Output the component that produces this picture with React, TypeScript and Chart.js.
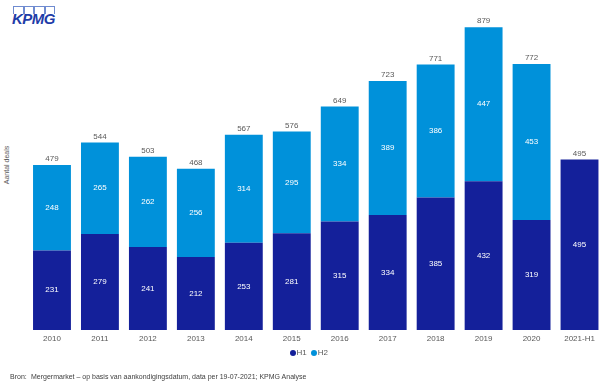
import React, { useEffect, useRef } from "react";
import { Chart, registerables } from "chart.js";

Chart.register(...registerables);

const categories = ["2010", "2011", "2012", "2013", "2014", "2015", "2016", "2017", "2018", "2019", "2020", "2021-H1"];
const h1Values = [231, 279, 241, 212, 253, 281, 315, 334, 385, 432, 319, 495];
const h2Values: (number | null)[] = [248, 265, 262, 256, 314, 295, 334, 389, 386, 447, 453, null];
const totals = h1Values.map((v, i) => v + (h2Values[i] ?? 0));

const H1_COLOR = "#14209a";
const H2_COLOR = "#0091da";
const GRAY = "#595959";
const FONT = "'Liberation Sans', Arial, sans-serif";

const labelPlugin = {
  id: "valueLabels",
  afterDatasetsDraw(chart: any) {
    const ctx = chart.ctx;
    ctx.save();
    ctx.font = `8px ${FONT}`;
    ctx.textAlign = "center";
    chart.data.datasets.forEach((ds: any, di: number) => {
      const meta = chart.getDatasetMeta(di);
      meta.data.forEach((el: any, i: number) => {
        const v = ds.data[i];
        if (v === null || v === undefined) return;
        const { x, y, base } = el.getProps(["x", "y", "base"], true);
        ctx.fillStyle = "#ffffff";
        ctx.textBaseline = "middle";
        ctx.fillText(String(v), x, (y + base) / 2);
      });
    });
    // totals above the stacks
    const m0 = chart.getDatasetMeta(0);
    const m1 = chart.getDatasetMeta(1);
    totals.forEach((t, i) => {
      const el0 = m0.data[i];
      const el1 = m1.data[i];
      const topY = h2Values[i] !== null ? el1.getProps(["y"], true).y : el0.getProps(["y"], true).y;
      const x = el0.getProps(["x"], true).x;
      ctx.fillStyle = GRAY;
      ctx.textBaseline = "bottom";
      ctx.fillText(String(t), x, topY - 2);
    });
    ctx.restore();
  },
};

export default function App() {
  const canvasRef = useRef<HTMLCanvasElement | null>(null);

  useEffect(() => {
    document.body.style.margin = "0";
    const canvas = canvasRef.current;
    if (!canvas) return;
    const chart = new Chart(canvas, {
      type: "bar",
      data: {
        labels: categories,
        datasets: [
          { label: "H1", data: h1Values, backgroundColor: H1_COLOR, borderWidth: 0 },
          { label: "H2", data: h2Values as any, backgroundColor: H2_COLOR, borderWidth: 0 },
        ],
      },
      options: {
        animation: false,
        responsive: false,
        maintainAspectRatio: false,
        datasets: { bar: { categoryPercentage: 1, barPercentage: 0.79 } } as any,
        layout: { padding: { left: 28, right: 1.5, top: 20, bottom: 0 } },
        plugins: {
          legend: { display: false },
          tooltip: { enabled: false },
        },
        scales: {
          x: {
            stacked: true,
            grid: { display: false, drawTicks: false },
            border: { display: false },
            ticks: { color: GRAY, font: { size: 8, family: FONT }, padding: 4, maxRotation: 0, autoSkip: false },
            afterFit: (scale: any) => {
              scale.height = 20;
            },
          },
          y: {
            stacked: true,
            display: false,
            min: 0,
            max: 900,
          },
        },
      },
      plugins: [labelPlugin],
    });
    return () => chart.destroy();
  }, []);

  return (
    <div style={{ position: "relative", width: 605, height: 387, background: "#fff", fontFamily: FONT, overflow: "hidden" }}>
      {/* KPMG logo */}
      <div style={{ position: "absolute", left: 13, top: 6, width: 42, height: 8, display: "flex" }}>
        {[0, 1, 2, 3].map((i) => (
          <div key={i} style={{ width: 10.5, height: 8, boxSizing: "border-box", border: "1px solid #6f8bd0", borderBottom: "none", marginRight: 0 }} />
        ))}
      </div>
      <div
        style={{
          position: "absolute",
          left: 12,
          top: 10,
          fontSize: 15,
          fontWeight: "bold",
          fontStyle: "italic",
          color: "#1e3ca8",
          letterSpacing: -0.5,
          lineHeight: "17px",
          fontFamily: FONT,
        }}
      >
        KPMG
      </div>
      {/* y axis title */}
      <div
        style={{
          position: "absolute",
          left: 6,
          top: 165,
          transform: "translate(-50%, -50%) rotate(-90deg)",
          fontSize: 7,
          color: GRAY,
          whiteSpace: "nowrap",
        }}
      >
        Aantal deals
      </div>
      <canvas ref={canvasRef} width={605} height={350} style={{ position: "absolute", left: 0, top: 0, width: 605, height: 350 }} />
      {/* legend */}
      <div style={{ position: "absolute", left: 289.5, top: 348, display: "flex", alignItems: "center", fontSize: 8, color: GRAY, lineHeight: "10px" }}>
        <span style={{ width: 6, height: 6, borderRadius: 3, background: H1_COLOR, display: "inline-block", marginRight: 1 }} />
        <span style={{ marginRight: 4 }}>H1</span>
        <span style={{ width: 6, height: 6, borderRadius: 3, background: H2_COLOR, display: "inline-block", marginRight: 1 }} />
        <span>H2</span>
      </div>
      {/* source */}
      <div style={{ position: "absolute", left: 10, top: 372, fontSize: 7, color: "#404040", whiteSpace: "nowrap", lineHeight: "9px" }}>
        <span style={{ display: "inline-block", width: 21 }}>Bron:</span>
        Mergermarket – op basis van aankondigingsdatum, data per 19-07-2021; KPMG Analyse
      </div>
    </div>
  );
}
